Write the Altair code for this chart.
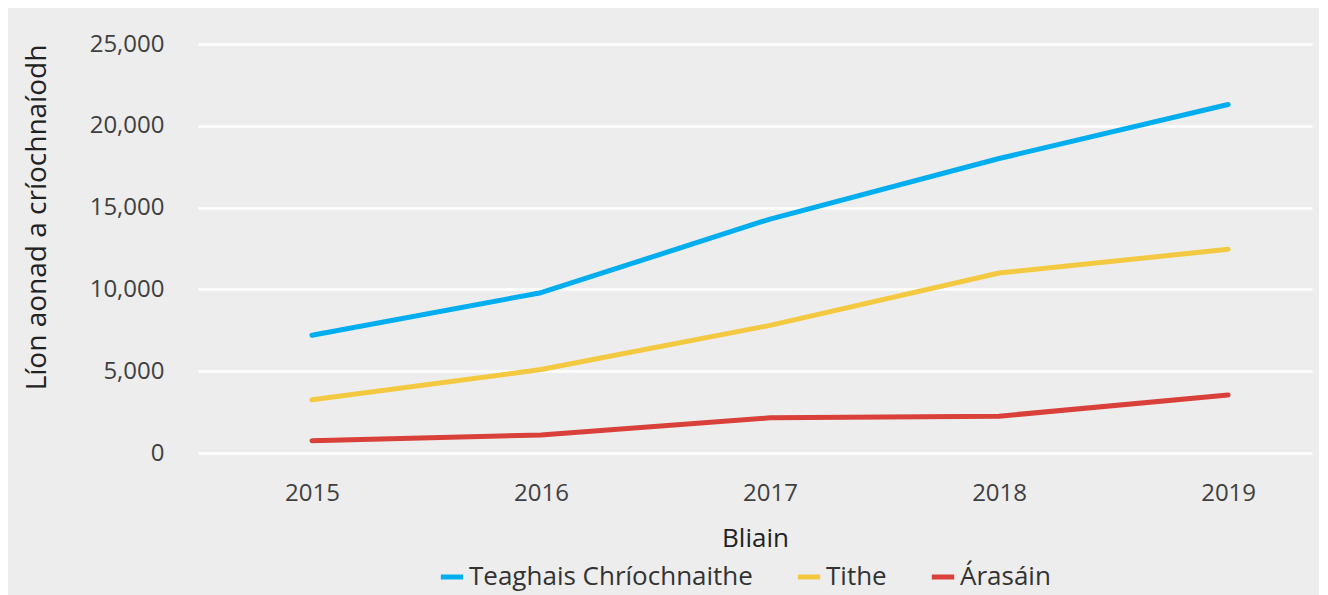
import altair as alt
import pandas as pd

years = ["2015", "2016", "2017", "2018", "2019"]
teaghais = [7200, 9800, 14300, 18000, 21300]
tithe = [3250, 5100, 7800, 11000, 12450]
arasain = [750, 1100, 2150, 2250, 3550]

series_names = ["Teaghais Chríochnaithe", "Tithe", "Árasáin"]
series_colors = ["#00AEEF", "#F4C942", "#D9403A"]

rows = []
for name, vals in zip(series_names, [teaghais, tithe, arasain]):
    for y, v in zip(years, vals):
        rows.append({"Bliain": y, "value": v, "series": name})
df = pd.DataFrame(rows)

FONT = "Open Sans"

chart = alt.Chart(df).mark_line(strokeWidth=5, strokeCap="round", strokeJoin="round").encode(
    x=alt.X("Bliain:O", sort=years,
            scale=alt.Scale(type="point", padding=0.432, align=0.576),
            axis=alt.Axis(title="Bliain", labelAngle=0, domain=False, ticks=False, grid=False,
                          labelFontSize=24, labelColor="#404040", labelPadding=28,
                          titleFontSize=26, titleFontWeight="normal", titleColor="#222222",
                          titlePadding=20, labelFont=FONT, titleFont=FONT)),
    y=alt.Y("value:Q",
            scale=alt.Scale(domain=[0, 25000], nice=False),
            axis=alt.Axis(title="Líon aonad a críochnaíodh", format=",.0f", values=[0, 5000, 10000, 15000, 20000, 25000],
                          domain=False, ticks=False, grid=True, gridColor="#FFFFFF", gridWidth=2.5,
                          labelFontSize=24, labelColor="#404040", labelPadding=34,
                          titleFontSize=28, titleFontWeight="normal", titleColor="#222222",
                          titleX=-161, titleY=173, titleBaseline="middle", titleAngle=270,
                          labelFont=FONT, titleFont=FONT)),
    color=alt.Color("series:N", sort=series_names,
                    scale=alt.Scale(domain=series_names, range=series_colors),
                    legend=alt.Legend(title=None, orient="none", direction="horizontal",
                                      legendX=240, legendY=519,
                                      symbolType="stroke", symbolStrokeWidth=5, symbolSize=500,
                                      labelFontSize=26, labelColor="#333333", labelFont=FONT,
                                      labelOffset=3, columnPadding=34, labelLimit=0)),
).properties(
    width=1114, height=409,
    autosize=alt.AutoSizeParams(type="none"),
    padding={"left": 190, "top": 36, "right": 7, "bottom": 142},
    background="#EDEDED",
).configure_view(stroke=None, fill="#EDEDED")

chart.save("out.html", embed_options={"renderer": "svg", "actions": False})
